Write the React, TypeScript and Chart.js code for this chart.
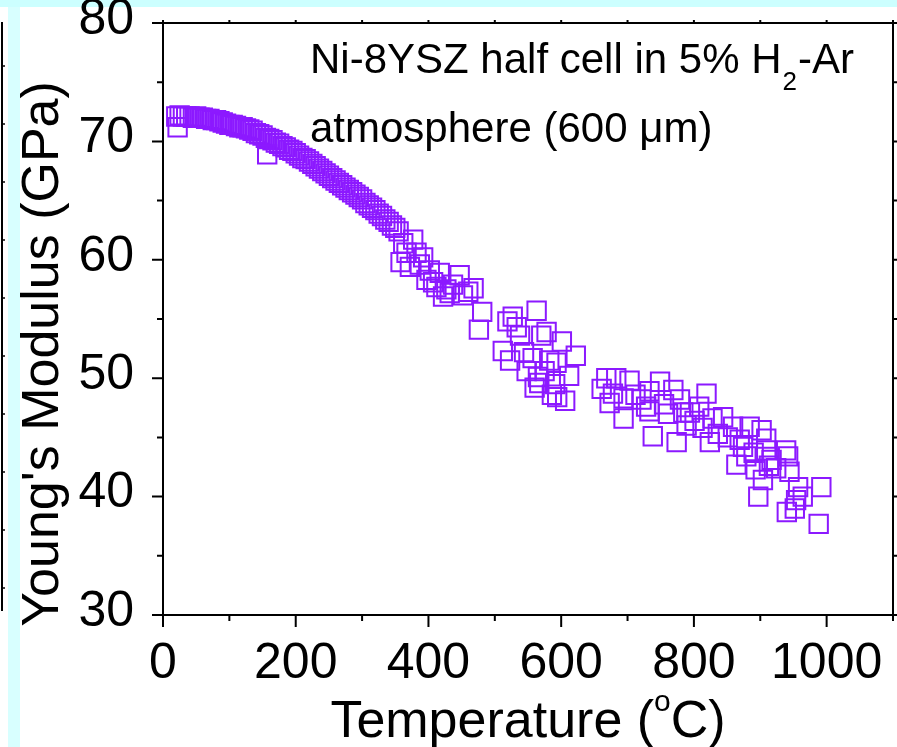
import React, { useEffect, useRef } from 'react';
import { Chart, registerables } from 'chart.js';

Chart.register(...registerables);

const FONT = '"Liberation Sans", Arial, Helvetica, sans-serif';

// Dense low-temperature run (°C, GPa)
const denseTemperature = [
  20, 25, 30, 35, 40, 45, 50, 55, 60, 65, 70, 75, 80, 85, 90, 95, 100, 105, 110, 115,
  120, 125, 130, 135, 140, 145, 150, 155, 160, 165, 170, 175, 180, 185, 190, 195, 200,
  205, 210, 215, 220, 225, 230, 235, 240, 245, 250, 255, 260, 265, 270, 275, 280, 285,
  290, 295, 300, 305, 310, 315, 320, 325, 330, 335, 340, 345, 350, 355,
];
const denseModulus = [
  72.1, 72.2, 72.1, 72.1, 72.1, 72.0, 72.1, 72.0, 72.0, 71.9, 71.9, 71.8, 71.8, 71.7, 71.6, 71.5, 71.4, 71.4, 71.3, 71.2,
  71.2, 71.1, 71.0, 70.9, 70.7, 70.6, 70.5, 70.3, 70.2, 70.1, 69.9, 69.8, 69.6, 69.5, 69.3, 69.2, 69.0,
  68.8, 68.6, 68.5, 68.3, 68.1, 67.9, 67.7, 67.5, 67.3, 67.1, 66.9, 66.7, 66.5, 66.3, 66.1, 65.9, 65.7,
  65.5, 65.3, 65.1, 64.8, 64.6, 64.4, 64.2, 63.9, 63.7, 63.4, 63.2, 62.9, 62.7, 62.4,
];

// Scattered high-temperature readings (°C, GPa)
const scatterTemperature = [
  22, 157, 358, 362, 367, 372, 377, 382, 387, 392, 397, 402, 407, 412, 417, 422, 427, 432, 437, 447,
  452, 460, 468, 476, 481, 519, 527, 533, 538, 512, 523, 544, 548, 557, 563, 565, 570, 578, 560, 567,
  575, 582, 586, 593, 591, 594, 601, 606, 612, 622, 661, 668, 673, 678, 683, 694, 694, 703, 712, 721,
  728, 733, 733, 738, 749, 755, 761, 769, 774, 779, 784, 789, 794, 801, 808, 813, 819, 824, 828, 836,
  844, 851, 859, 864, 869, 874, 879, 884, 890, 893, 897, 902, 904, 909, 909, 913, 917, 924, 939, 942,
  944, 940, 952, 954, 957, 964, 988, 992,
];
const scatterModulus = [
  71.2, 68.9, 59.8, 61.4, 60.6, 59.4, 61.7, 60.6, 59.6, 60.2, 58.3, 59.1, 58.1, 57.7, 58.9, 56.9, 57.5, 57.2, 57.9, 58.7,
  57.0, 57.3, 57.6, 54.1, 55.6, 54.8, 55.2, 54.3, 53.6, 52.3, 51.5, 52.2, 50.6, 51.7, 55.7, 50.1, 53.6, 53.9, 49.2, 49.6,
  50.6, 51.5, 48.6, 51.3, 49.5, 48.4, 53.1, 48.1, 50.2, 51.9, 49.1, 50.0, 47.9, 48.7, 50.0, 48.3, 46.6, 49.8, 48.6, 48.2,
  47.6, 48.9, 47.2, 45.1, 49.7, 47.8, 47.0, 49.0, 44.6, 48.2, 47.1, 46.0, 47.1, 46.4, 47.6, 45.8, 48.7, 44.6, 46.6, 45.3,
  46.7, 45.0, 45.9, 42.7, 44.8, 44.2, 43.4, 45.9, 43.7, 42.3, 40.0, 45.6, 41.4, 43.9, 44.9, 42.6, 43.1, 42.4, 43.9, 43.4,
  42.1, 38.7, 39.0, 39.7, 40.8, 40.0, 37.7, 40.8,
];

const xTickValues = [0, 200, 400, 600, 800, 1000];
const yTickValues = [30, 40, 50, 60, 70, 80];
const xMinorValues = [0, 100, 200, 300, 400, 500, 600, 700, 800, 900, 1000, 1100];
const yMinorValues = [30, 35, 40, 45, 50, 55, 60, 65, 70, 75, 80];

const annotationLine1a = 'Ni-8YSZ half cell in 5% H';
const annotationSub = '2';
const annotationLine1b = '-Ar';
const annotationLine2 = 'atmosphere (600 \u03bcm)';
const xTitleA = 'Temperature (';
const xTitleSup = 'o';
const xTitleB = 'C)';
const yTitle = "Young's Modulus (GPa)";

const MARK = 'rgb(140, 25, 255)';

const decorPlugin = {
  id: 'decor',
  beforeDraw(chart: any) {
    const { ctx, width, height } = chart;
    ctx.save();
    ctx.fillStyle = '#ffffff';
    ctx.fillRect(0, 0, width, height);
    ctx.fillStyle = '#ccffff';
    ctx.fillRect(0, 0, width, 7);
    ctx.fillStyle = '#d8ffff';
    ctx.fillRect(8, 7, 12, height - 7);
    // neighbouring panel's axis fragment
    ctx.strokeStyle = '#000';
    ctx.lineWidth = 2;
    ctx.beginPath();
    ctx.moveTo(2, 22);
    ctx.lineTo(2, 611);
    ctx.stroke();
    ctx.lineWidth = 1.5;
    for (let y = 66; y < 611; y += 58) {
      ctx.beginPath();
      ctx.moveTo(2, y);
      ctx.lineTo(5, y);
      ctx.stroke();
    }
    ctx.restore();
  },
  afterDraw(chart: any) {
    const { ctx, chartArea } = chart;
    const xs = chart.scales.x;
    const ys = chart.scales.y;
    const { left, right, top, bottom } = chartArea;
    ctx.save();
    ctx.strokeStyle = '#000';
    ctx.lineWidth = 2;
    ctx.lineCap = 'square';
    ctx.strokeRect(left, top, right - left, bottom - top);
    ctx.lineCap = 'butt';
    // x ticks
    xMinorValues.forEach((v) => {
      const px = xs.getPixelForValue(v);
      const major = xTickValues.includes(v);
      ctx.beginPath();
      ctx.moveTo(px, bottom);
      ctx.lineTo(px, bottom + (major ? 12 : 6));
      ctx.moveTo(px, top);
      ctx.lineTo(px, top - 3);
      ctx.stroke();
    });
    // y ticks
    yMinorValues.forEach((v) => {
      const py = ys.getPixelForValue(v);
      const major = yTickValues.includes(v);
      ctx.beginPath();
      ctx.moveTo(left, py);
      ctx.lineTo(left - (major ? 11 : 6), py);
      ctx.moveTo(right, py);
      ctx.lineTo(right + (major ? 6 : 4), py);
      ctx.stroke();
    });

    ctx.fillStyle = '#000';
    ctx.textBaseline = 'alphabetic';
    // annotation
    ctx.textAlign = 'left';
    ctx.font = `42px ${FONT}`;
    let ax = left + 147;
    ctx.fillText(annotationLine1a, ax, 73);
    ax += ctx.measureText(annotationLine1a).width;
    ctx.font = `26px ${FONT}`;
    ctx.fillText(annotationSub, ax + 1, 90);
    ax += ctx.measureText(annotationSub).width + 2;
    ctx.font = `42px ${FONT}`;
    ctx.fillText(annotationLine1b, ax, 73);
    ctx.fillText(annotationLine2, left + 147, 142);

    // x title
    ctx.font = `52px ${FONT}`;
    const wA = ctx.measureText(xTitleA).width;
    const wB = ctx.measureText(xTitleB).width;
    ctx.font = `30px ${FONT}`;
    const wS = ctx.measureText(xTitleSup).width;
    const total = wA + wS + wB;
    let tx = (left + right) / 2 - total / 2;
    ctx.font = `52px ${FONT}`;
    ctx.fillText(xTitleA, tx, 737);
    tx += wA;
    ctx.font = `30px ${FONT}`;
    ctx.fillText(xTitleSup, tx, 711);
    tx += wS;
    ctx.font = `52px ${FONT}`;
    ctx.fillText(xTitleB, tx, 737);

    // y title
    ctx.save();
    ctx.translate(58, 354);
    ctx.rotate(-Math.PI / 2);
    ctx.textAlign = 'center';
    ctx.font = `52px ${FONT}`;
    ctx.fillText(yTitle, 0, 0);
    ctx.restore();

    ctx.restore();
  },
};

export default function App() {
  const canvasRef = useRef<HTMLCanvasElement | null>(null);

  useEffect(() => {
    const canvas = canvasRef.current;
    if (!canvas) return;
    const points = [
      ...denseTemperature.map((t, i) => ({ x: t, y: denseModulus[i] })),
      ...scatterTemperature.map((t, i) => ({ x: t, y: scatterModulus[i] })),
    ];
    const chart = new Chart(canvas, {
      type: 'scatter',
      data: {
        datasets: [
          {
            data: points,
            pointStyle: 'rect',
            pointRadius: 13,
            pointHoverRadius: 13,
            borderWidth: 2,
            borderColor: MARK,
            backgroundColor: 'rgba(0,0,0,0)',
          },
        ],
      },
      options: {
        animation: false,
        responsive: false,
        events: [],
        layout: { autoPadding: false, padding: { top: 23, right: 4, left: 0, bottom: 0 } },
        plugins: { legend: { display: false }, tooltip: { enabled: false } },
        scales: {
          x: {
            type: 'linear',
            min: 0,
            max: 1100,
            grid: { display: false },
            border: { display: false },
            afterBuildTicks: (s: any) => {
              s.ticks = xTickValues.map((v) => ({ value: v }));
            },
            afterFit: (s: any) => {
              s.height = 132;
              s.paddingLeft = 0;
              s.paddingRight = 0;
            },
            ticks: {
              color: '#000',
              padding: 11,
              maxRotation: 0,
              autoSkip: false,
              callback: (v: any) => String(v),
              font: { family: FONT, size: 50 },
            },
          },
          y: {
            type: 'linear',
            min: 30,
            max: 80,
            grid: { display: false },
            border: { display: false },
            afterBuildTicks: (s: any) => {
              s.ticks = yTickValues.map((v) => ({ value: v }));
            },
            afterFit: (s: any) => {
              s.width = 163;
              s.paddingTop = 0;
              s.paddingBottom = 0;
            },
            ticks: {
              color: '#000',
              padding: 21,
              labelOffset: -3,
              autoSkip: false,
              callback: (v: any) => String(v),
              font: { family: FONT, size: 50 },
            },
          },
        },
      },
      plugins: [decorPlugin],
    });
    return () => chart.destroy();
  }, []);

  return (
    <div style={{ position: 'absolute', left: 0, top: 0, width: 897, height: 747, background: '#fff' }}>
      <canvas ref={canvasRef} width={897} height={747} style={{ display: 'block' }} />
    </div>
  );
}
